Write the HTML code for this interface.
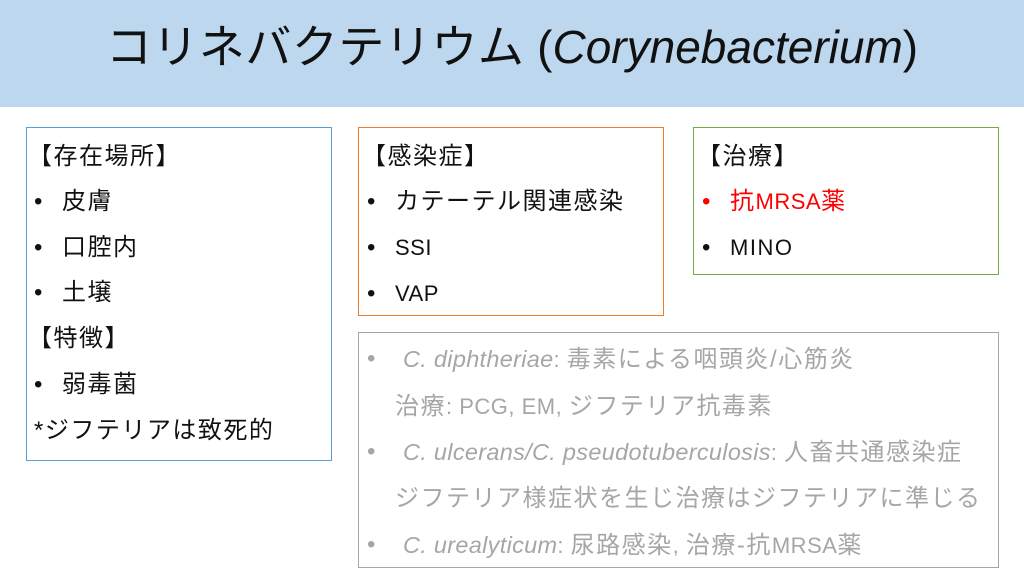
<!DOCTYPE html>
<html><head><meta charset="utf-8"><style>
body{margin:0;width:1024px;height:576px;background:#fff;position:relative;overflow:hidden;font-family:"Liberation Sans","Noto Sans CJK JP",sans-serif;}
.hdr{position:absolute;left:0;top:0;width:1024px;height:107px;background:#BDD7EE;}
.title{position:absolute;left:0;top:16px;width:1024px;text-align:center;font-size:46px;line-height:62px;color:#111;}
.title .j{letter-spacing:0.5px;}
.box{position:absolute;box-sizing:border-box;}
.t{position:absolute;font-size:24px;line-height:30px;color:#111;white-space:nowrap;letter-spacing:1.5px;}
.t i{font-size:23.5px;letter-spacing:0.3px;}
.t .l{font-size:22px;letter-spacing:0.5px;}
.g{color:#a6a6a6;}
.r{color:#ff0000;}
.s{position:absolute;top:0;}
</style></head><body>
<div class="hdr"></div>
<div class="title"><span class="j">コリネバクテリウム</span> (<i>Corynebacterium</i>)</div>

<div class="box" style="left:26px;top:127px;width:306px;height:334px;border:1.5px solid #5B9BD5;"></div>
<div class="t" style="left:28px;top:142px;">【存在場所】</div>
<div class="t" style="left:34px;top:187px;">•<span class="s" style="left:28px">皮膚</span></div>
<div class="t" style="left:34px;top:233px;">•<span class="s" style="left:28px">口腔内</span></div>
<div class="t" style="left:34px;top:278px;">•<span class="s" style="left:28px">土壌</span></div>
<div class="t" style="left:28px;top:324px;">【特徴】</div>
<div class="t" style="left:34px;top:370px;">•<span class="s" style="left:28px">弱毒菌</span></div>
<div class="t" style="left:34px;top:416px;">*ジフテリアは致死的</div>

<div class="box" style="left:358px;top:127px;width:306px;height:189px;border:1.5px solid #ED7D31;"></div>
<div class="t" style="left:362px;top:142px;">【感染症】</div>
<div class="t" style="left:367px;top:187px;">•<span class="s" style="left:28px">カテーテル関連感染</span></div>
<div class="t" style="left:367px;top:233px;">•<span class="s l" style="left:28px">SSI</span></div>
<div class="t" style="left:367px;top:279px;">•<span class="s l" style="left:28px">VAP</span></div>

<div class="box" style="left:693px;top:127px;width:306px;height:148px;border:1.5px solid #70AD47;"></div>
<div class="t" style="left:697px;top:142px;">【治療】</div>
<div class="t r" style="left:702px;top:187px;">•<span class="s" style="left:28px">抗<span class="l">MRSA</span>薬</span></div>
<div class="t" style="left:702px;top:233px;">•<span class="s l" style="left:28px;letter-spacing:1.5px">MINO</span></div>

<div class="box" style="left:358px;top:332px;width:641px;height:236px;border:1px solid #a6a6a6;"></div>
<div class="t g" style="left:367px;top:344px;">•<span class="s" style="left:36px"><i>C. diphtheriae</i><span class="l">: </span>毒素による咽頭炎/心筋炎</span></div>
<div class="t g" style="left:395px;top:392px;">治療<span class="l">: PCG, EM, </span>ジフテリア抗毒素</div>
<div class="t g" style="left:367px;top:437px;">•<span class="s" style="left:36px"><i>C. ulcerans/C. pseudotuberculosis</i><span class="l">: </span>人畜共通感染症</span></div>
<div class="t g" style="left:395px;top:484px;">ジフテリア様症状を生じ治療はジフテリアに準じる</div>
<div class="t g" style="left:367px;top:530px;">•<span class="s" style="left:36px"><i>C. urealyticum</i><span class="l">: </span>尿路感染<span class="l">, </span>治療-抗<span class="l">MRSA</span>薬</span></div>
</body></html>
